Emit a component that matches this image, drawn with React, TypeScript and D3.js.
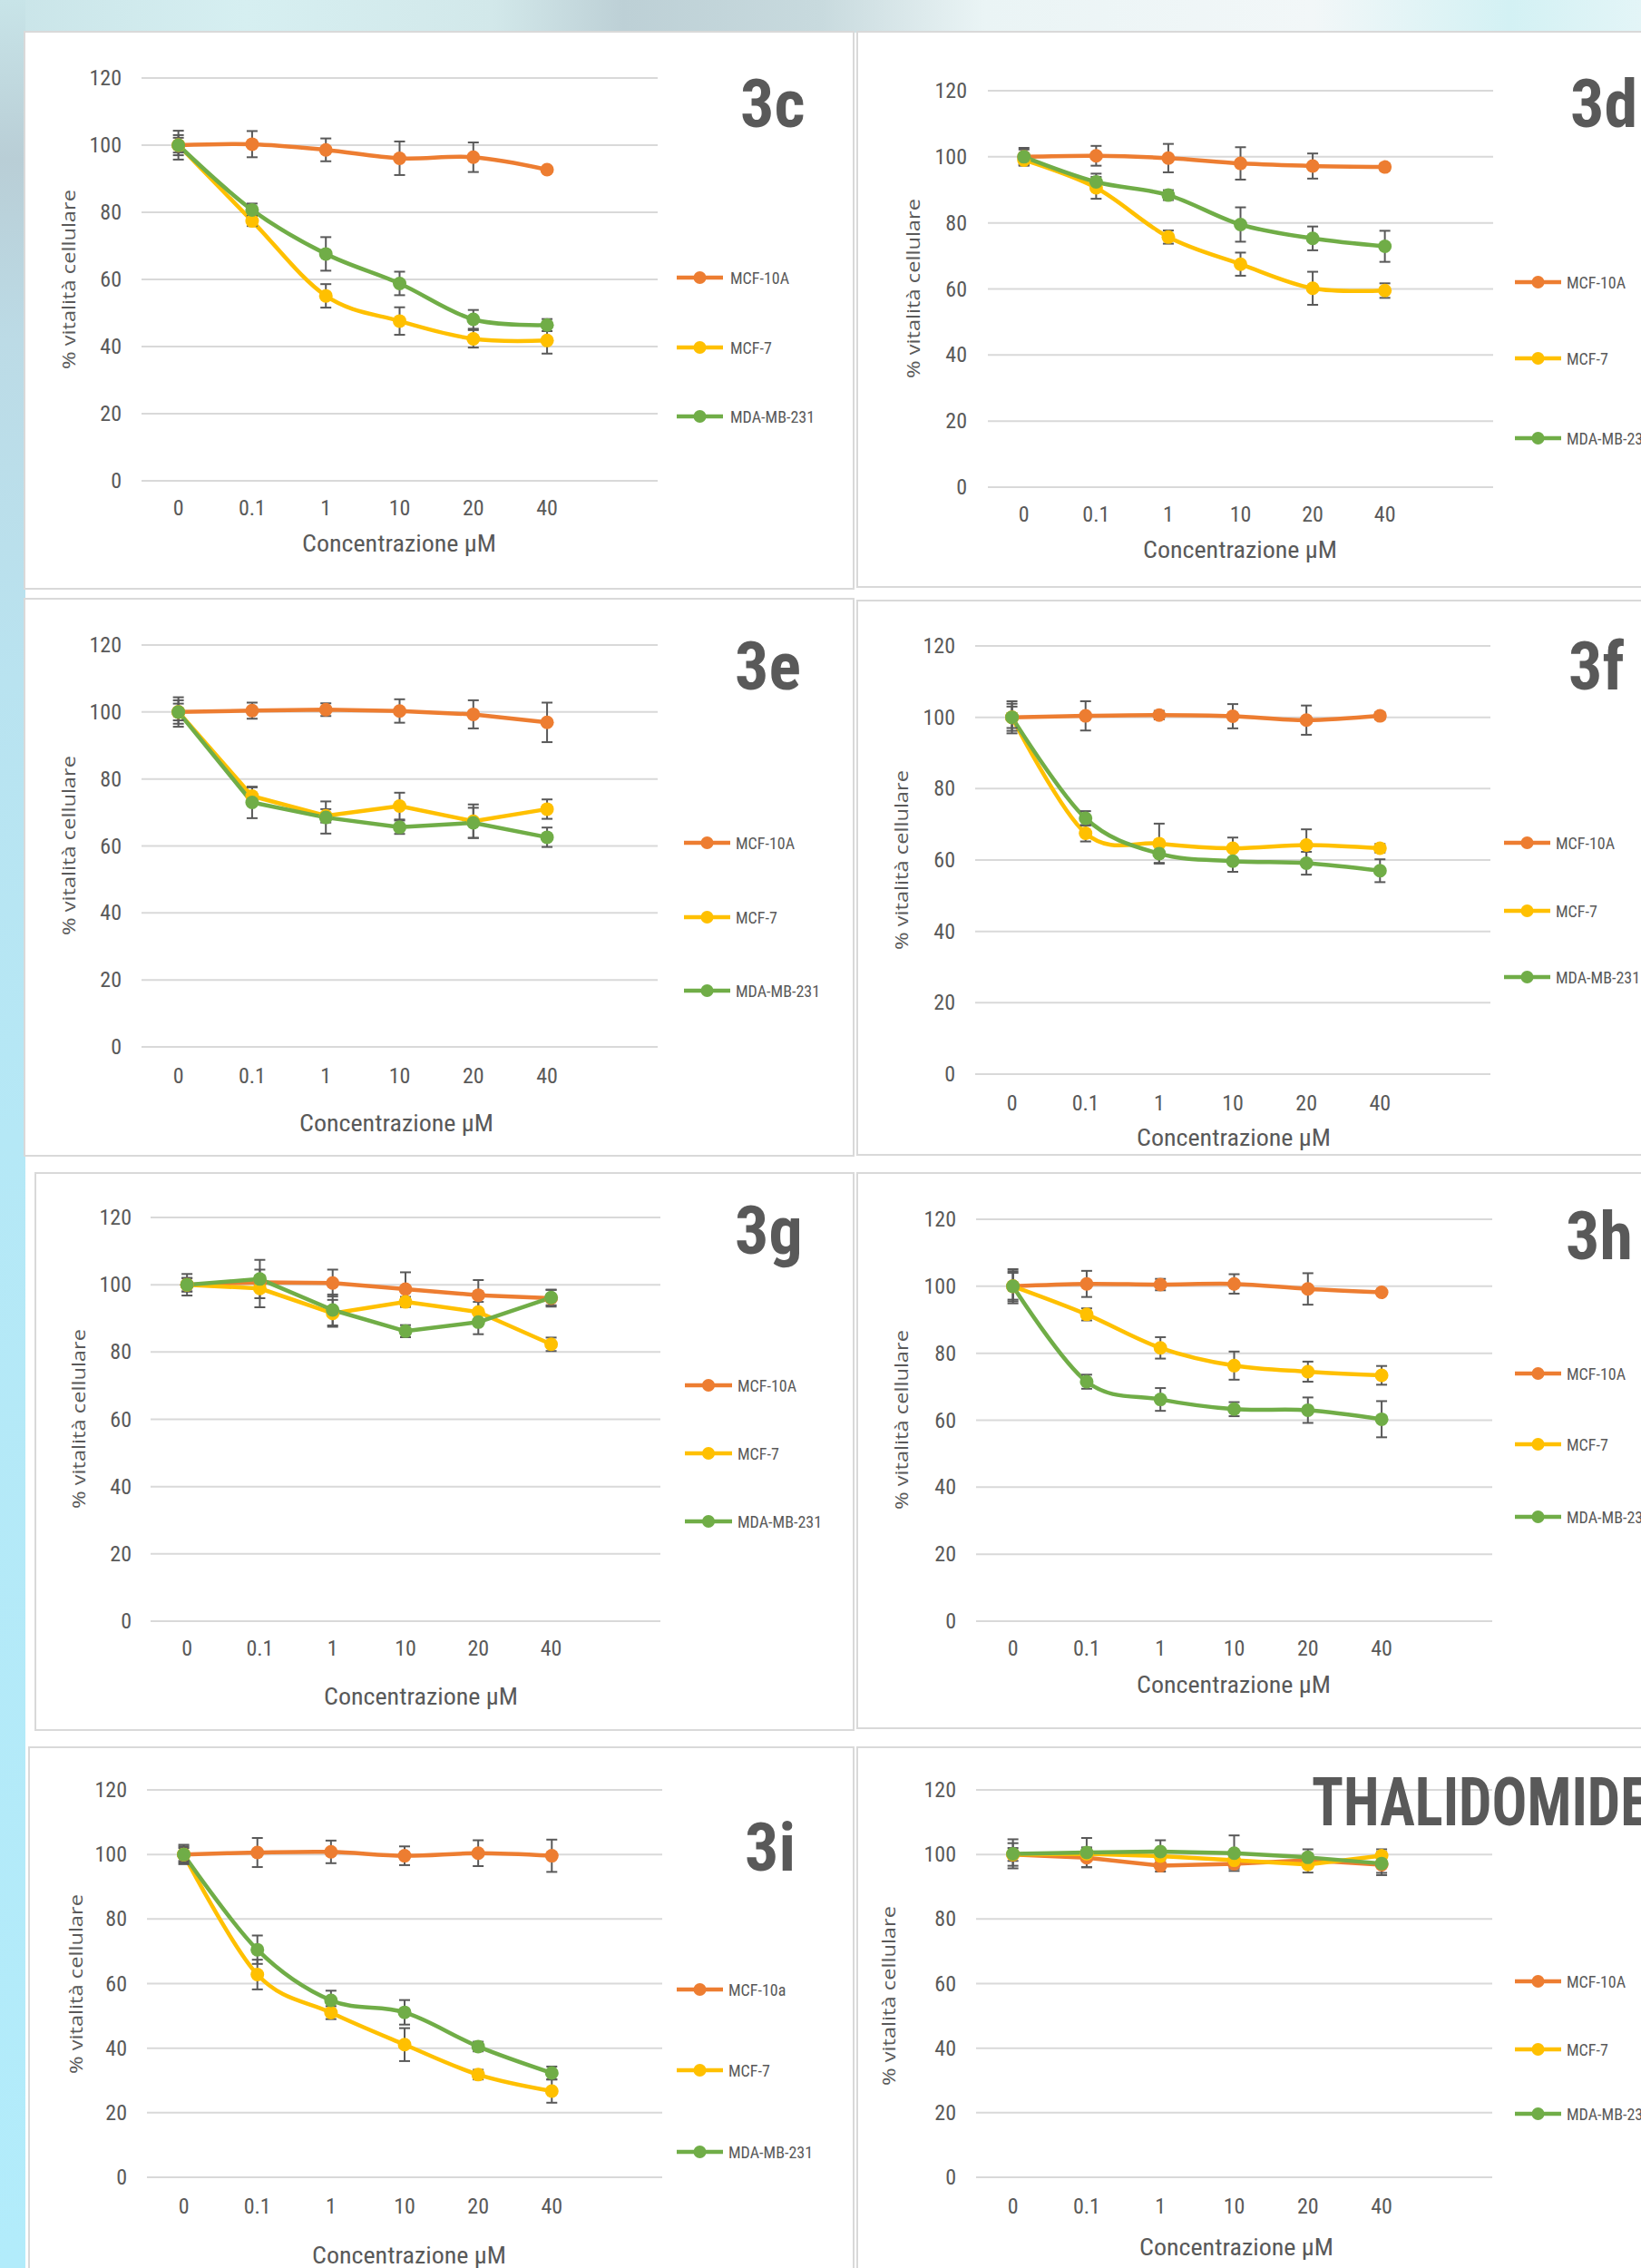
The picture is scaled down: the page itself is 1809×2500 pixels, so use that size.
import React from 'react'
import * as d3 from 'd3'

const categories = ['0', '0.1', '1', '10', '20', '40']
const yTicks = [0, 20, 40, 60, 80, 100, 120]
const names = ['MCF-10A', 'MCF-7', 'MDA-MB-231']
const names3i = ['MCF-10a', 'MCF-7', 'MDA-MB-231']
const colors = ['#ED7D31', '#FFC000', '#70AD47']

// 3c
const c_10a = [100, 100.3, 98.6, 96.1, 96.4, 92.7]
const c_10a_err = [4.3, 3.9, 3.4, 5, 4.4, 0.8]
const c_7 = [100, 77.4, 55.1, 47.6, 42.3, 41.8]
const c_7_err = [3, 1.5, 3.5, 4.1, 2.6, 3.9]
const c_mda = [100, 80.7, 67.6, 58.8, 48.1, 46.4]
const c_mda_err = [2.2, 1.9, 5, 3.5, 2.8, 1.8]

// 3d
const d_10a = [100, 100.3, 99.6, 98, 97.2, 96.9]
const d_10a_err = [2.2, 3, 4.3, 4.9, 3.8, 1]
const d_7 = [99, 90.6, 75.7, 67.5, 60.2, 59.5]
const d_7_err = [1.5, 3.3, 2, 3.5, 5, 2.2]
const d_mda = [100, 92.4, 88.4, 79.5, 75.3, 72.9]
const d_mda_err = [2.7, 2.5, 1.5, 5.2, 3.6, 4.7]

// 3e
const e_10a = [100, 100.4, 100.7, 100.3, 99.3, 96.9]
const e_10a_err = [4.4, 2.4, 1.9, 3.5, 4.2, 5.9]
const e_7 = [100, 74.9, 69, 71.9, 67.4, 71]
const e_7_err = [2.5, 2.6, 2, 4, 5, 2.9]
const e_mda = [100, 73, 68.5, 65.6, 66.9, 62.6]
const e_mda_err = [3.5, 4.7, 4.8, 2, 4.5, 2.9]

// 3f
const f_10a = [100, 100.4, 100.6, 100.3, 99.2, 100.4]
const f_10a_err = [4.5, 4.1, 1.2, 3.4, 4.1, 1]
const f_7 = [100, 67.5, 64.6, 63.3, 64.2, 63.3]
const f_7_err = [3.8, 2.3, 5.6, 3, 4.4, 1.2]
const f_mda = [100, 71.7, 61.8, 59.7, 59.1, 57]
const f_mda_err = [3, 2, 2.6, 3, 3.2, 3.2]

// 3g
const g_10a = [100, 100.7, 100.5, 98.7, 96.9, 96]
const g_10a_err = [3.2, 2, 4, 5, 4.5, 2.5]
const g_7 = [100, 98.9, 91.5, 94.9, 91.9, 82.3]
const g_7_err = [2, 5.6, 4, 1.5, 3, 2]
const g_mda = [100, 101.7, 92.5, 86.2, 88.9, 96.2]
const g_mda_err = [2, 5.7, 4.6, 1.8, 3.6, 2.3]

// 3h
const h_10a = [100, 100.7, 100.5, 100.7, 99.2, 98.2]
const h_10a_err = [5.1, 3.9, 1.7, 2.9, 4.7, 0.8]
const h_7 = [100, 91.6, 81.6, 76.3, 74.5, 73.4]
const h_7_err = [4.5, 1.8, 3.2, 4.2, 3, 2.8]
const h_mda = [100, 71.5, 66.2, 63.3, 63, 60.3]
const h_mda_err = [4, 2.1, 3.4, 2.1, 3.8, 5.4]

// 3i
const i_10a = [100, 100.6, 100.8, 99.6, 100.4, 99.6]
const i_10a_err = [3, 4.5, 3.5, 2.9, 4, 5]
const i_7 = [100, 62.8, 51, 41.1, 31.8, 26.7]
const i_7_err = [2, 4.6, 2, 5.1, 1.5, 3.6]
const i_mda = [100, 70.5, 54.8, 51.1, 40.5, 32.3]
const i_mda_err = [2.5, 4.4, 3, 3.8, 1.5, 2]

// thalidomide
const t_10a = [100, 99, 96.5, 97.1, 98.2, 96.8]
const t_10a_err = [3.5, 3, 1.8, 1.5, 2, 2.5]
const t_7 = [100, 100.2, 99.5, 98.2, 96.9, 99.6]
const t_7_err = [2, 2, 2, 2, 2.5, 2]
const t_mda = [100.2, 100.6, 100.9, 100.4, 99.1, 97.2]
const t_mda_err = [4.5, 4.5, 3.5, 5.5, 2.5, 3.6]

const FONT = '"Liberation Sans Narrow", "Roboto Condensed", Roboto, sans-serif'
const TEXT = '#595959'
const GRID = '#D9D9D9'

// layout: box [x,y,w,h], plot [left,right,yTop(120),yBottom(0)]
const panels = [
  { tag: '3c', names, values: [c_10a, c_7, c_mda], errors: [c_10a_err, c_7_err, c_mda_err], smooth: true,
    box: [27, 35, 914, 614], plot: [156, 725, 86, 530], yLabX: 134, xLabY: 560, xTitle: [440, 599], yTitle: [75, 308],
    legend: [746, 797, 805, [306, 383, 459]], tagPos: [816, 140] },
  { tag: '3d', names, values: [d_10a, d_7, d_mda], errors: [d_10a_err, d_7_err, d_mda_err], smooth: true,
    box: [945, 35, 880, 612], plot: [1089, 1646, 100, 537], yLabX: 1066, xLabY: 567, xTitle: [1367, 606], yTitle: [1006, 318],
    legend: [1670, 1721, 1727, [311, 395, 483]], tagPos: [1731, 140] },
  { tag: '3e', names, values: [e_10a, e_7, e_mda], errors: [e_10a_err, e_7_err, e_mda_err], smooth: false,
    box: [27, 660, 914, 614], plot: [156, 725, 711, 1154], yLabX: 134, xLabY: 1186, xTitle: [437, 1238], yTitle: [75, 932],
    legend: [754, 805, 811, [929, 1011, 1092]], tagPos: [810, 760] },
  { tag: '3f', names, values: [f_10a, f_7, f_mda], errors: [f_10a_err, f_7_err, f_mda_err], smooth: true,
    box: [945, 662, 880, 611], plot: [1075, 1643, 712, 1184], yLabX: 1053, xLabY: 1216, xTitle: [1360, 1254], yTitle: [993, 948],
    legend: [1658, 1709, 1715, [929, 1004, 1077]], tagPos: [1729, 760] },
  { tag: '3g', names, values: [g_10a, g_7, g_mda], errors: [g_10a_err, g_7_err, g_mda_err], smooth: false,
    box: [39, 1293, 902, 614], plot: [166, 728, 1342, 1787], yLabX: 145, xLabY: 1817, xTitle: [464, 1870], yTitle: [86, 1564],
    legend: [755, 807, 813, [1527, 1602, 1677]], tagPos: [810, 1382] },
  { tag: '3h', names, values: [h_10a, h_7, h_mda], errors: [h_10a_err, h_7_err, h_mda_err], smooth: true,
    box: [945, 1293, 880, 612], plot: [1076, 1645, 1344, 1787], yLabX: 1054, xLabY: 1817, xTitle: [1360, 1857], yTitle: [993, 1565],
    legend: [1670, 1721, 1727, [1514, 1592, 1672]], tagPos: [1726, 1388] },
  { tag: '3i', names: names3i, values: [i_10a, i_7, i_mda], errors: [i_10a_err, i_7_err, i_mda_err], smooth: true,
    box: [32, 1926, 909, 600], plot: [162, 730, 1973, 2400], yLabX: 140, xLabY: 2432, xTitle: [451, 2486], yTitle: [83, 2187],
    legend: [746, 797, 803, [2193, 2282, 2372]], tagPos: [821, 2062] },
  { tag: 'THALIDOMIDE', names, values: [t_10a, t_7, t_mda], errors: [t_10a_err, t_7_err, t_mda_err], smooth: false,
    box: [945, 1926, 880, 600], plot: [1076, 1645, 1973, 2400], yLabX: 1054, xLabY: 2432, xTitle: [1363, 2477], yTitle: [979, 2200],
    legend: [1670, 1721, 1727, [2184, 2259, 2330]], tagPos: [1446, 2012], tagLen: 372 },
]

function Panel({ p }: { p: any }) {
  const [bx, by, bw, bh] = p.box
  const [left, right, yTop, yBottom] = p.plot
  const x = d3.scaleBand().domain([...categories, '_']).range([left, right])
  const cx = (i: number) => (x(categories[i]) as number) + x.bandwidth() / 2
  const y = d3.scaleLinear().domain([0, 120]).range([yBottom, yTop])
  const line = d3.line<number>()
    .x((_, i) => cx(i))
    .y((d) => y(d))
    .curve(p.smooth ? d3.curveCardinal.tension(0) : d3.curveLinear)
  const [lx1, lx2, ltx, lys] = p.legend

  return (
    <g>
      <rect x={bx} y={by} width={bw} height={bh} fill="#fff" stroke={GRID} strokeWidth={2} />
      {yTicks.map((t) => (
        <g key={t}>
          <line x1={left} x2={right} y1={y(t)} y2={y(t)} stroke={GRID} strokeWidth={2} />
          <text x={p.yLabX} y={y(t)} textAnchor="end" dominantBaseline="central" fontSize={24} fill={TEXT} fontFamily={FONT}>{t}</text>
        </g>
      ))}
      {categories.map((c, i) => (
        <text key={c} x={cx(i)} y={p.xLabY} textAnchor="middle" dominantBaseline="central" fontSize={24} fill={TEXT} fontFamily={FONT}>{c}</text>
      ))}
      <text x={p.xTitle[0]} y={p.xTitle[1]} textAnchor="middle" dominantBaseline="central" fontSize={26} fill={TEXT} fontFamily={FONT}
        textLength={214} lengthAdjust="spacingAndGlyphs">Concentrazione µM</text>
      <text transform={`translate(${p.yTitle[0]},${p.yTitle[1]}) rotate(-90)`} textAnchor="middle" dominantBaseline="central" fontSize={20}
        fill={TEXT} fontFamily='"Open Sans", "DejaVu Sans", sans-serif' textLength={198} lengthAdjust="spacingAndGlyphs">% vitalità cellulare</text>
      <text x={p.tagPos[0]} y={p.tagPos[1]} fontSize={74} fontWeight="bold" fill={TEXT} fontFamily={FONT}
        {...(p.tagLen ? { textLength: p.tagLen, lengthAdjust: 'spacingAndGlyphs' } : {})}>{p.tag}</text>

      {p.values.map((vals: number[], s: number) => (
        <path key={'l' + s} d={line(vals) as string} fill="none" stroke={colors[s]} strokeWidth={4.5} strokeLinejoin="round" strokeLinecap="round" />
      ))}
      {p.values.map((vals: number[], s: number) => (
        <g key={'e' + s} stroke="#595959" strokeWidth={2}>
          {vals.map((v, i) => {
            const e = p.errors[s][i]
            const xx = cx(i)
            return (
              <g key={i}>
                <line x1={xx} x2={xx} y1={y(v + e)} y2={y(v - e)} />
                <line x1={xx - 6} x2={xx + 6} y1={y(v + e)} y2={y(v + e)} />
                <line x1={xx - 6} x2={xx + 6} y1={y(v - e)} y2={y(v - e)} />
              </g>
            )
          })}
        </g>
      ))}
      {p.values.map((vals: number[], s: number) => (
        <g key={'m' + s} fill={colors[s]}>
          {vals.map((v, i) => <circle key={i} cx={cx(i)} cy={y(v)} r={7.5} />)}
        </g>
      ))}

      {p.names.map((n: string, s: number) => (
        <g key={n}>
          <line x1={lx1} x2={lx2} y1={lys[s]} y2={lys[s]} stroke={colors[s]} strokeWidth={4.5} />
          <circle cx={(lx1 + lx2) / 2} cy={lys[s]} r={7} fill={colors[s]} />
          <text x={ltx} y={lys[s]} dominantBaseline="central" fontSize={18} fill={TEXT} fontFamily={FONT}>{n}</text>
        </g>
      ))}
    </g>
  )
}

export default function App() {
  return (
    <svg width={1809} height={2500} style={{ position: 'absolute', left: 0, top: 0, display: 'block' }}>
      <defs>
        <linearGradient id="topStrip" x1="0" x2="1" y1="0" y2="0">
          <stop offset="0" stopColor="#c9e4e8" />
          <stop offset="0.15" stopColor="#d6eff1" />
          <stop offset="0.3" stopColor="#d2e8ea" />
          <stop offset="0.38" stopColor="#bdd0d6" />
          <stop offset="0.5" stopColor="#c8dade" />
          <stop offset="0.6" stopColor="#eaf4f5" />
          <stop offset="0.8" stopColor="#f2f7f8" />
          <stop offset="0.92" stopColor="#d3f1f4" />
          <stop offset="1" stopColor="#e3f5f7" />
        </linearGradient>
        <linearGradient id="leftStrip" x1="0" x2="0" y1="0" y2="1">
          <stop offset="0" stopColor="#c8e4e8" />
          <stop offset="0.07" stopColor="#b9ced6" />
          <stop offset="0.15" stopColor="#bcdbe6" />
          <stop offset="0.3" stopColor="#b9e3f0" />
          <stop offset="0.5" stopColor="#b5e8f6" />
          <stop offset="1" stopColor="#b2ecfb" />
        </linearGradient>
      </defs>
      <rect x={0} y={0} width={1809} height={2500} fill="#fff" />
      <rect x={0} y={0} width={1809} height={36} fill="url(#topStrip)" />
      <rect x={0} y={0} width={28} height={2500} fill="url(#leftStrip)" />
      {panels.map((p) => <Panel key={p.tag} p={p} />)}
    </svg>
  )
}
